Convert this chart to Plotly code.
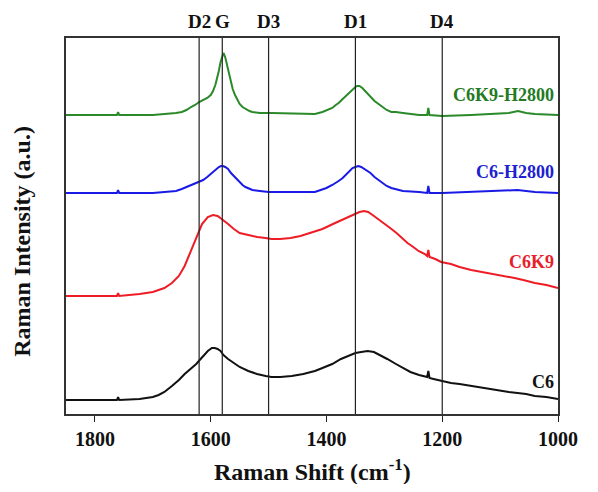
import plotly.graph_objects as go

# ---------------- data ----------------
c6_shift = [1850, 1800, 1762, 1760, 1758, 1723, 1700, 1690, 1680, 1667, 1655, 1645, 1634, 1625, 1619,
            1612, 1605, 1598, 1593, 1588, 1583, 1578, 1570, 1560, 1550, 1535, 1520, 1505, 1495, 1480,
            1460, 1440, 1420, 1407, 1390, 1375, 1362, 1350, 1340, 1329, 1318, 1307, 1295, 1280, 1268,
            1255, 1240, 1229, 1226, 1224, 1222, 1215, 1202, 1185, 1170, 1150, 1130, 1115, 1102, 1085,
            1070, 1055, 1040, 1020, 1000]
c6_int = [14, 14, 14, 17, 14, 15, 17, 19, 22, 28, 34, 40, 45, 50, 54,
          59, 63, 66, 66, 65, 63, 59, 55, 51, 47, 43, 40, 38, 37, 37,
          38, 40, 43, 46, 50, 55, 58, 61, 62, 63, 62, 59, 55, 50, 46,
          42, 39, 37, 37, 43, 36, 35, 33, 31, 30, 28, 26, 25, 23, 22,
          21, 20, 18, 17, 15]

c6k9_shift = [1850, 1800, 1762, 1760, 1758, 1723, 1700, 1690, 1680, 1667, 1655, 1645, 1635, 1625, 1615,
              1605, 1596, 1588, 1578, 1570, 1560, 1550, 1535, 1520, 1505, 1495, 1480, 1462, 1445, 1430,
              1407, 1385, 1370, 1362, 1350, 1343, 1335, 1328, 1318, 1308, 1300, 1290, 1279, 1268, 1260,
              1250, 1241, 1230, 1226, 1224, 1222, 1212, 1202, 1185, 1170, 1150, 1130, 1115, 1100, 1085,
              1075, 1060, 1040, 1020, 1000]
c6k9_int = [118, 118, 118, 121, 118, 120, 122, 124, 126, 131, 138, 148, 162, 177, 190,
            197, 199, 198, 194, 190, 185, 181, 179, 177, 176, 175, 175, 176, 178, 181,
            185, 191, 195, 197, 200, 202, 203, 202, 198, 194, 190, 186, 181, 175, 171,
            167, 163, 160, 158, 164, 157, 155, 152, 150, 147, 144, 142, 140, 139, 137,
            136, 134, 131, 129, 126]

c6h_shift = [1850, 1800, 1762, 1760, 1758, 1700, 1670, 1660, 1650, 1642, 1635, 1627, 1620, 1613, 1606,
             1600, 1595, 1590, 1586, 1582, 1579, 1575, 1570, 1565, 1560, 1555, 1550, 1545, 1540, 1533,
             1528, 1515, 1500, 1450, 1420, 1410, 1400, 1390, 1384, 1379, 1372, 1365, 1360, 1355, 1350,
             1345, 1340, 1335, 1330, 1324, 1317, 1310, 1303, 1296, 1288, 1280, 1268, 1240, 1226, 1224,
             1222, 1200, 1150, 1100, 1070, 1040, 1000]
c6h_int = [221, 221, 221, 224, 221, 221, 222, 223, 225, 227, 228, 230, 232, 234, 237,
           240, 243, 245, 247, 248, 248, 247, 245, 241, 238, 234, 231, 229, 227, 225,
           224, 223, 222, 222, 222, 224, 226, 229, 231, 233, 236, 240, 243, 246, 247,
           248, 247, 245, 243, 241, 237, 234, 231, 228, 226, 225, 223, 222, 221, 228,
           221, 221, 222, 223, 224, 222, 221]

c6k9h_shift = [1850, 1800, 1762, 1760, 1758, 1700, 1670, 1660, 1650, 1642, 1634, 1627, 1620, 1613, 1606,
               1600, 1596, 1592, 1589, 1586, 1583, 1580, 1578, 1575, 1572, 1569, 1566, 1562, 1558, 1554,
               1550, 1545, 1540, 1533, 1528, 1515, 1495, 1450, 1420, 1407, 1398, 1390, 1384, 1379, 1372,
               1365, 1360, 1355, 1350, 1347, 1343, 1338, 1332, 1324, 1317, 1310, 1303, 1296, 1288, 1280,
               1268, 1240, 1226, 1224, 1222, 1200, 1150, 1100, 1085, 1069, 1055, 1040, 1000]
c6k9h_int = [299, 299, 299, 302, 299, 299, 300, 301, 302, 304, 307, 309, 312, 314, 316,
             319, 323, 329, 335, 343, 352, 359, 361, 357, 349, 341, 333, 325, 319, 314,
             310, 307, 305, 303, 302, 301, 301, 300, 300, 302, 304, 306, 309, 311, 315,
             319, 322, 325, 327, 328, 328, 326, 322, 317, 313, 310, 307, 304, 302, 302,
             301, 299, 299, 306, 299, 298, 299, 300, 301, 303, 301, 300, 299]

series_names = ["C6", "C6K9", "C6-H2800", "C6K9-H2800"]
series_colors = ["#111111", "#ee1c25", "#1a1ae6", "#2a8a2a"]
label_colors = ["#111111", "#e8202a", "#2020d0", "#237a23"]
label_y = [32, 152, 242, 319]

band_names = ["D2", "G", "D3", "D1", "D4"]
band_pos = [1620, 1580, 1500, 1350, 1200]

x_ticks = [1800, 1600, 1400, 1200, 1000]

FONT = "Liberation Serif"

fig = go.Figure()
xs = [c6_shift, c6k9_shift, c6h_shift, c6k9h_shift]
ys = [c6_int, c6k9_int, c6h_int, c6k9h_int]
for name, x, y, c in zip(series_names, xs, ys, series_colors):
    fig.add_trace(go.Scatter(x=x, y=y, mode="lines", name=name,
                             line=dict(color=c, width=2),
                             showlegend=False))

for bx in band_pos:
    fig.add_shape(type="line", xref="x", yref="paper", x0=bx, x1=bx, y0=0, y1=1,
                  line=dict(color="#222222", width=1.2))

for bn, bx in zip(band_names, band_pos):
    fig.add_annotation(x=bx, y=1.045, xref="x", yref="paper", text=bn, showarrow=False,
                       xanchor="center", yanchor="middle",
                       font=dict(family=FONT, size=19, color="#111111", weight="bold"))

for name, c, ly in zip(series_names, label_colors, label_y):
    fig.add_annotation(x=1003, y=ly, xref="x", yref="y", text=name, showarrow=False,
                       xanchor="right", yanchor="middle",
                       font=dict(family=FONT, size=18, color=c, weight="bold"))

fig.add_annotation(x=0.5, y=-0.149, xref="paper", yref="paper",
                   text="Raman Shift (cm<sup>-1</sup>)", showarrow=False,
                   xanchor="center", yanchor="middle",
                   font=dict(family=FONT, size=24, color="#111111", weight="bold"))
fig.add_annotation(x=-0.09, y=0.46, xref="paper", yref="paper",
                   text="Raman Intensity (a.u.)", showarrow=False, textangle=-90,
                   xanchor="center", yanchor="middle",
                   font=dict(family=FONT, size=24, color="#111111", weight="bold"))

fig.update_layout(
    width=582, height=476,
    margin=dict(l=58, r=22, t=30, b=70),
    paper_bgcolor="white", plot_bgcolor="white",
    xaxis=dict(range=[1850, 1000], tickvals=x_ticks, ticktext=[str(t) for t in x_ticks],
               ticks="outside", ticklen=6, tickwidth=1.2, tickcolor="#222222",
               showline=True, linecolor="#333333", linewidth=1.5, mirror=True,
               showgrid=False, zeroline=False,
               tickfont=dict(family=FONT, size=20, color="#111111", weight="bold")),
    yaxis=dict(range=[0, 376], showticklabels=False, ticks="",
               showline=True, linecolor="#333333", linewidth=1.5, mirror=True,
               showgrid=False, zeroline=False),
)

fig.write_html("out.html")
